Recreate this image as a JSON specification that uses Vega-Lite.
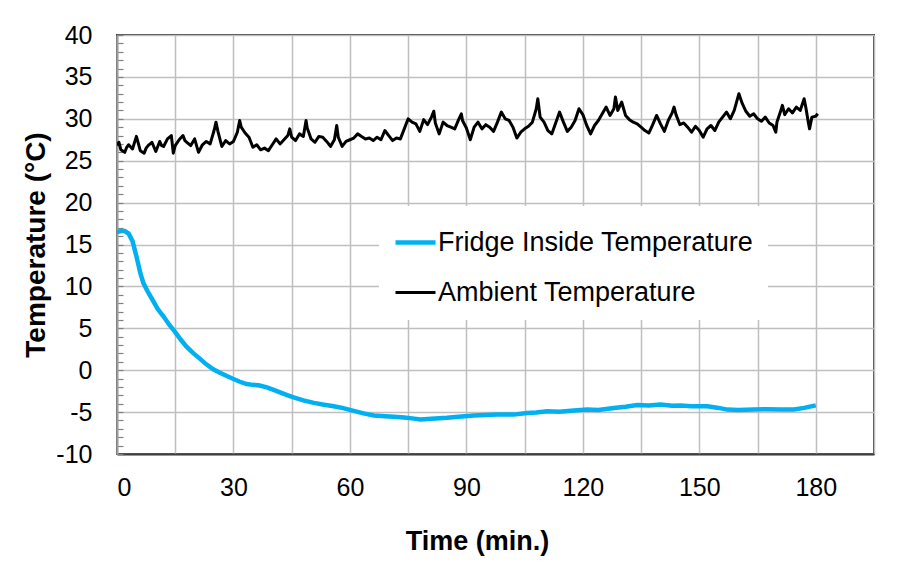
{
  "$schema": "https://vega.github.io/schema/vega-lite/v6.json",
  "width": 757,
  "height": 419,
  "autosize": {"type": "none"},
  "padding": {"left": 117, "top": 35, "right": 23, "bottom": 115},
  "background": "white",
  "config": {"font": "Liberation Sans", "view": {"stroke": "#404040", "strokeWidth": 2}},
  "datasets": {
    "fridge": [
      {"t":0,"v":16.5},{"t":1,"v":16.6},{"t":2,"v":16.6},{"t":3,"v":16.3},{"t":4,"v":15.4},{"t":5,"v":13.6},{"t":5.5,"v":12.6},{"t":6,"v":11.6},{"t":6.8,"v":10.4},{"t":8,"v":9.3},{"t":9.4,"v":8.2},{"t":10.5,"v":7.3},{"t":12,"v":6.4},{"t":13.5,"v":5.4},{"t":14.9,"v":4.6},{"t":16.5,"v":3.6},{"t":17.9,"v":2.8},{"t":19.5,"v":2.1},{"t":21.4,"v":1.35},{"t":23,"v":0.7},{"t":24.8,"v":0.1},{"t":26.5,"v":-0.3},{"t":28.3,"v":-0.7},{"t":30,"v":-1.05},{"t":31.5,"v":-1.35},{"t":33.4,"v":-1.65},{"t":35,"v":-1.75},{"t":36.5,"v":-1.8},{"t":38.6,"v":-2.05},{"t":40,"v":-2.3},{"t":42,"v":-2.65},{"t":44,"v":-3.0},{"t":45.5,"v":-3.25},{"t":48,"v":-3.6},{"t":50.7,"v":-3.9},{"t":53,"v":-4.1},{"t":55.8,"v":-4.3},{"t":58,"v":-4.5},{"t":61,"v":-4.85},{"t":63.5,"v":-5.15},{"t":66.2,"v":-5.4},{"t":69,"v":-5.5},{"t":71.3,"v":-5.56},{"t":74,"v":-5.65},{"t":76,"v":-5.75},{"t":78.2,"v":-5.88},{"t":81,"v":-5.8},{"t":85,"v":-5.68},{"t":88,"v":-5.55},{"t":91.9,"v":-5.4},{"t":95,"v":-5.35},{"t":98,"v":-5.3},{"t":102.2,"v":-5.3},{"t":105.6,"v":-5.1},{"t":108,"v":-5.05},{"t":110.8,"v":-4.9},{"t":114,"v":-4.95},{"t":117.7,"v":-4.8},{"t":121.1,"v":-4.7},{"t":124,"v":-4.75},{"t":128,"v":-4.5},{"t":131,"v":-4.35},{"t":134,"v":-4.15},{"t":137,"v":-4.2},{"t":140,"v":-4.1},{"t":143,"v":-4.25},{"t":145.2,"v":-4.2},{"t":148,"v":-4.3},{"t":152.1,"v":-4.3},{"t":155,"v":-4.5},{"t":157.2,"v":-4.7},{"t":160,"v":-4.75},{"t":164.1,"v":-4.7},{"t":167,"v":-4.65},{"t":171,"v":-4.7},{"t":174.4,"v":-4.7},{"t":177,"v":-4.5},{"t":180,"v":-4.2}
    ],
    "ambient": [
      {"t":0,"v":26.8},{"t":0.5,"v":27.2},{"t":1,"v":26.3},{"t":2,"v":26.0},{"t":2.5,"v":26.6},{"t":3,"v":26.9},{"t":4,"v":26.4},{"t":5,"v":27.9},{"t":6,"v":26.2},{"t":7,"v":25.9},{"t":7.5,"v":26.5},{"t":8,"v":26.8},{"t":9,"v":27.2},{"t":10,"v":26.1},{"t":11,"v":27.3},{"t":11.5,"v":26.8},{"t":12,"v":26.7},{"t":13,"v":27.6},{"t":14,"v":28.0},{"t":14.5,"v":25.9},{"t":15,"v":26.8},{"t":16,"v":27.5},{"t":17,"v":28.0},{"t":17.5,"v":27.4},{"t":18,"v":27.2},{"t":19,"v":26.8},{"t":20,"v":27.6},{"t":21,"v":26.0},{"t":22,"v":26.9},{"t":23,"v":27.3},{"t":24,"v":27.0},{"t":25,"v":28.6},{"t":25.5,"v":29.6},{"t":26,"v":28.5},{"t":27,"v":26.7},{"t":28,"v":27.4},{"t":29,"v":27.0},{"t":30,"v":27.3},{"t":31,"v":28.4},{"t":31.6,"v":29.8},{"t":32,"v":29.0},{"t":33,"v":28.3},{"t":34,"v":27.8},{"t":35,"v":26.6},{"t":36,"v":26.9},{"t":37,"v":26.3},{"t":38,"v":26.5},{"t":39,"v":26.2},{"t":40,"v":26.9},{"t":41,"v":27.6},{"t":42,"v":27.0},{"t":43,"v":27.5},{"t":44,"v":28.0},{"t":44.5,"v":28.8},{"t":45,"v":27.8},{"t":46,"v":27.4},{"t":47,"v":28.2},{"t":48,"v":27.9},{"t":48.7,"v":29.8},{"t":49,"v":28.9},{"t":50,"v":27.6},{"t":51,"v":27.2},{"t":52,"v":27.9},{"t":53,"v":27.8},{"t":54,"v":27.3},{"t":55,"v":26.7},{"t":56,"v":27.5},{"t":56.6,"v":29.2},{"t":57,"v":27.8},{"t":58,"v":26.7},{"t":59,"v":27.3},{"t":60,"v":27.5},{"t":61,"v":27.7},{"t":62,"v":28.2},{"t":63,"v":27.9},{"t":64,"v":27.6},{"t":65,"v":27.7},{"t":66,"v":27.4},{"t":67,"v":27.8},{"t":68,"v":27.5},{"t":69,"v":28.6},{"t":70,"v":28.0},{"t":71,"v":27.4},{"t":72,"v":27.7},{"t":73,"v":27.6},{"t":74,"v":28.8},{"t":75,"v":30.0},{"t":76,"v":29.6},{"t":77,"v":29.4},{"t":78,"v":28.5},{"t":79,"v":29.9},{"t":80,"v":29.3},{"t":81,"v":30.2},{"t":81.6,"v":30.9},{"t":82,"v":29.5},{"t":83,"v":28.2},{"t":84,"v":29.6},{"t":85,"v":29.2},{"t":86,"v":29.0},{"t":87,"v":28.8},{"t":88,"v":29.9},{"t":88.7,"v":30.6},{"t":89,"v":29.8},{"t":90,"v":28.9},{"t":91,"v":27.5},{"t":92,"v":29.0},{"t":93,"v":29.6},{"t":94,"v":28.8},{"t":95,"v":29.3},{"t":96,"v":29.0},{"t":97,"v":28.5},{"t":98,"v":29.6},{"t":99,"v":30.8},{"t":100,"v":30.0},{"t":101,"v":29.8},{"t":102,"v":29.0},{"t":103,"v":27.7},{"t":104,"v":28.4},{"t":105,"v":28.8},{"t":106,"v":29.1},{"t":107,"v":29.6},{"t":108,"v":31.2},{"t":108.4,"v":32.4},{"t":109,"v":30.2},{"t":110,"v":29.6},{"t":111,"v":28.6},{"t":112,"v":28.2},{"t":113,"v":29.5},{"t":114,"v":30.8},{"t":115,"v":29.6},{"t":116,"v":28.5},{"t":117,"v":29.0},{"t":118,"v":29.8},{"t":119,"v":31.2},{"t":120,"v":30.5},{"t":121,"v":29.2},{"t":122,"v":28.2},{"t":123,"v":29.2},{"t":124,"v":29.8},{"t":125,"v":30.6},{"t":126,"v":31.4},{"t":127,"v":30.4},{"t":128,"v":31.2},{"t":128.4,"v":32.6},{"t":129,"v":31.0},{"t":130,"v":32.0},{"t":131,"v":30.4},{"t":132,"v":29.9},{"t":133,"v":29.6},{"t":134,"v":29.4},{"t":135,"v":29.0},{"t":136,"v":28.6},{"t":137,"v":28.3},{"t":138,"v":29.3},{"t":139,"v":30.4},{"t":140,"v":29.4},{"t":141,"v":28.5},{"t":142,"v":29.8},{"t":143,"v":30.7},{"t":143.5,"v":31.4},{"t":144,"v":30.5},{"t":145,"v":29.3},{"t":146,"v":29.5},{"t":147,"v":29.0},{"t":148,"v":28.4},{"t":149,"v":29.1},{"t":150,"v":28.6},{"t":151,"v":27.8},{"t":152,"v":28.8},{"t":153,"v":29.2},{"t":154,"v":28.6},{"t":155,"v":29.6},{"t":156,"v":30.2},{"t":157,"v":30.8},{"t":158,"v":30.0},{"t":159,"v":31.0},{"t":160.2,"v":33.0},{"t":161,"v":31.9},{"t":162,"v":30.9},{"t":163,"v":30.3},{"t":164,"v":30.6},{"t":165,"v":30.0},{"t":166,"v":29.7},{"t":167,"v":30.2},{"t":168,"v":29.5},{"t":169,"v":29.2},{"t":169.7,"v":28.4},{"t":170,"v":29.6},{"t":171,"v":31.0},{"t":171.4,"v":31.6},{"t":172,"v":30.5},{"t":173,"v":31.2},{"t":174,"v":30.7},{"t":175,"v":31.4},{"t":176,"v":31.0},{"t":177,"v":32.4},{"t":177.5,"v":31.2},{"t":178,"v":29.8},{"t":178.4,"v":28.8},{"t":179,"v":30.2},{"t":180,"v":30.3},{"t":180.5,"v":30.6}
    ]
  },
  "layer": [
    {
      "data": {"name": "ambient"},
      "transform": [{"calculate": "'Ambient Temperature'", "as": "s"}],
      "mark": {"type": "line", "clip": true, "strokeJoin": "round"},
      "encoding": {
        "x": {"field": "t", "type": "quantitative"},
        "y": {"field": "v", "type": "quantitative"},
        "color": {"field": "s", "type": "nominal"},
        "strokeWidth": {"field": "s", "type": "nominal"}
      }
    },
    {
      "data": {"name": "fridge"},
      "transform": [{"calculate": "'Fridge Inside Temperature'", "as": "s"}],
      "mark": {"type": "line", "clip": true},
      "encoding": {
        "x": {"field": "t", "type": "quantitative"},
        "y": {"field": "v", "type": "quantitative"},
        "color": {"field": "s", "type": "nominal"},
        "strokeWidth": {"field": "s", "type": "nominal"}
      }
    }
  ],
  "encoding": {
    "x": {
      "field": "t", "type": "quantitative",
      "scale": {"domain": [0, 195], "nice": false, "zero": false},
      "axis": {
        "values": [0,15,30,45,60,75,90,105,120,135,150,165,180,195],
        "labelExpr": "datum.value % 30 === 0 && datum.value <= 180 ? datum.label : ''",
        "title": "Time (min.)", "titleFontSize": 27, "titleFontWeight": "bold", "titleColor": "black",
        "titleX": 360, "titlePadding": 28,
        "labelFontSize": 25, "labelColor": "black", "labelPadding": 21,
        "ticks": false, "domainColor": "#404040", "domainWidth": 2,
        "gridColor": "#BFBFBF", "gridWidth": 1.5
      }
    },
    "y": {
      "field": "v", "type": "quantitative",
      "scale": {"domain": [-10, 40], "nice": false, "zero": false},
      "axis": {
        "values": [-10,-9,-8,-7,-6,-5,-4,-3,-2,-1,0,1,2,3,4,5,6,7,8,9,10,11,12,13,14,15,16,17,18,19,20,21,22,23,24,25,26,27,28,29,30,31,32,33,34,35,36,37,38,39,40],
        "labelExpr": "datum.value % 5 === 0 ? '' + datum.value : ''",
        "gridOpacity": {"condition": {"test": "datum.value % 5 === 0", "value": 1}, "value": 0},
        "gridColor": "#BFBFBF", "gridWidth": 1.5,
        "tickSize": -6, "tickColor": "#808080", "tickWidth": 1.2,
        "domainColor": "#A0A0A0", "domainWidth": 2,
        "title": "Temperature (°C)", "titleFontSize": 28, "titleFontWeight": "bold", "titleColor": "black", "titlePadding": 5,
        "labelFontSize": 25, "labelColor": "black", "labelPadding": 31
      }
    },
    "color": {
      "field": "s", "type": "nominal",
      "scale": {"domain": ["Fridge Inside Temperature", "Ambient Temperature"], "range": ["#00B0F0", "#000000"]},
      "legend": {
        "orient": "none", "legendX": 262, "legendY": 171, "title": null,
        "fillColor": "white", "padding": 14, "symbolType": "stroke", "symbolSize": 1600,
        "labelFontSize": 27, "labelColor": "black", "labelOffset": 0, "rowPadding": 15, "labelLimit": 0
      }
    },
    "strokeWidth": {
      "field": "s", "type": "nominal",
      "scale": {"domain": ["Fridge Inside Temperature", "Ambient Temperature"], "range": [4.5, 3]},
      "legend": {
        "orient": "none", "legendX": 262, "legendY": 171, "title": null,
        "fillColor": "white", "padding": 14, "symbolType": "stroke", "symbolSize": 1600,
        "labelFontSize": 27, "labelColor": "black", "labelOffset": 0, "rowPadding": 15, "labelLimit": 0
      }
    }
  }
}
